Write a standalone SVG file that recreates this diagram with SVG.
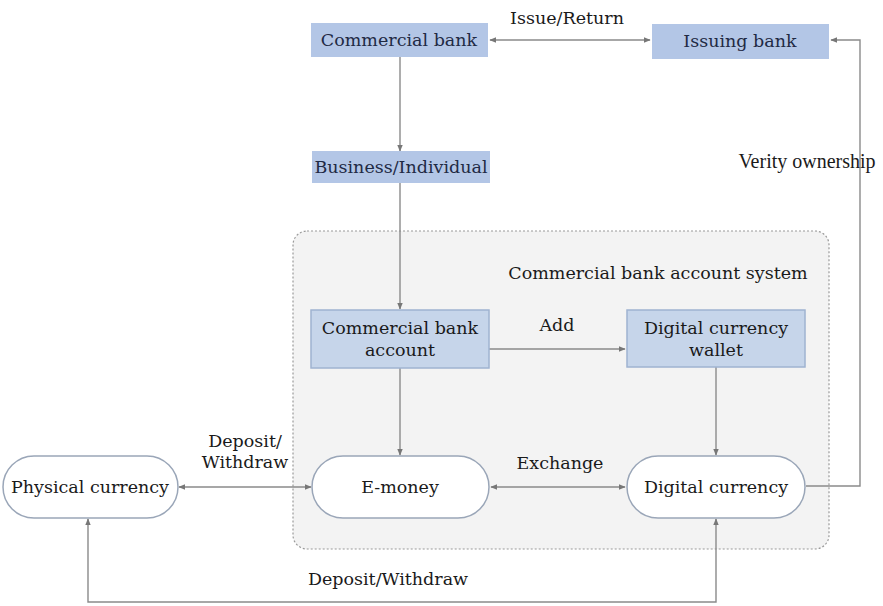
<svg xmlns="http://www.w3.org/2000/svg" width="883" height="606" viewBox="0 0 883 606">
<style>
text{font-family:"DejaVu Serif","Liberation Serif",serif;font-size:17.5px;fill:#1a1a1a;text-anchor:middle}
.tm{font-family:"Liberation Serif","DejaVu Serif",serif;font-size:20px}
.top{fill:#b3c6e6;stroke:none}
.box{fill:#c6d5ea;stroke:#9fb3d1;stroke-width:1.5}
.pill{fill:#fff;stroke:#9aa6b8;stroke-width:1.5}
.b{fill:#1f2a44}
.ln{fill:none;stroke:#8a8a8a;stroke-width:1.4}
</style>
<defs>
<marker id="ah" viewBox="0 0 10 10" refX="9" refY="5" markerWidth="7" markerHeight="7" orient="auto-start-reverse" markerUnits="userSpaceOnUse">
<path d="M0,1 L10,5 L0,9 z" fill="#777"/>
</marker>
</defs>
<rect width="883" height="606" fill="#fff"/>
<g id="system">
<rect x="293" y="231" width="536" height="318" rx="14" fill="#f3f3f3" stroke="#9a9a9a" stroke-width="1.2" stroke-dasharray="2,2"/>
<text x="658" y="279">Commercial bank account system</text>
</g>
<g id="connectors">
<line class="ln" x1="490" y1="40" x2="650" y2="40" marker-start="url(#ah)" marker-end="url(#ah)"/>
<text x="567" y="24">Issue/Return</text>
<line class="ln" x1="400" y1="57" x2="400" y2="151" marker-end="url(#ah)"/>
<line class="ln" x1="400" y1="183" x2="400" y2="309" marker-end="url(#ah)"/>
<line class="ln" x1="489" y1="349" x2="625" y2="349" marker-end="url(#ah)"/>
<text x="557" y="331">Add</text>
<line class="ln" x1="400" y1="368" x2="400" y2="455" marker-end="url(#ah)"/>
<line class="ln" x1="716" y1="367" x2="716" y2="455" marker-end="url(#ah)"/>
<line class="ln" x1="491" y1="487" x2="625" y2="487" marker-start="url(#ah)" marker-end="url(#ah)"/>
<text x="560" y="469">Exchange</text>
<line class="ln" x1="179" y1="487" x2="311" y2="487" marker-start="url(#ah)" marker-end="url(#ah)"/>
<text x="245" y="447">Deposit/</text>
<text x="245" y="468">Withdraw</text>
<polyline class="ln" points="88,519 88,602 716,602 716,519" marker-start="url(#ah)" marker-end="url(#ah)"/>
<text x="388" y="585">Deposit/Withdraw</text>
<polyline class="ln" points="806,486 860,486 860,40 831,40" marker-end="url(#ah)"/>
<text class="tm" x="807" y="168">Verity ownership</text>
</g>
<g id="commercial-bank">
<rect class="top" x="311" y="23" width="177" height="34"/>
<text class="b" x="399" y="46">Commercial bank</text>
</g>
<g id="issuing-bank">
<rect class="top" x="652" y="24" width="177" height="35"/>
<text class="b" x="740" y="47">Issuing bank</text>
</g>
<g id="business-individual">
<rect class="top" x="312" y="151" width="178" height="32"/>
<text class="b" x="401" y="173">Business/Individual</text>
</g>
<g id="commercial-bank-account">
<rect class="box" x="311" y="310" width="178" height="58"/>
<text x="400" y="334">Commercial bank</text>
<text x="400" y="356">account</text>
</g>
<g id="digital-currency-wallet">
<rect class="box" x="627" y="310" width="178" height="57"/>
<text x="716" y="334">Digital currency</text>
<text x="716" y="356">wallet</text>
</g>
<g id="e-money">
<rect class="pill" x="312" y="456" width="177" height="62" rx="31"/>
<text x="400" y="493">E-money</text>
</g>
<g id="digital-currency">
<rect class="pill" x="627" y="456" width="178" height="62" rx="31"/>
<text x="716" y="493">Digital currency</text>
</g>
<g id="physical-currency">
<rect class="pill" x="3" y="456" width="175" height="62" rx="31"/>
<text x="90" y="493">Physical currency</text>
</g>
</svg>
